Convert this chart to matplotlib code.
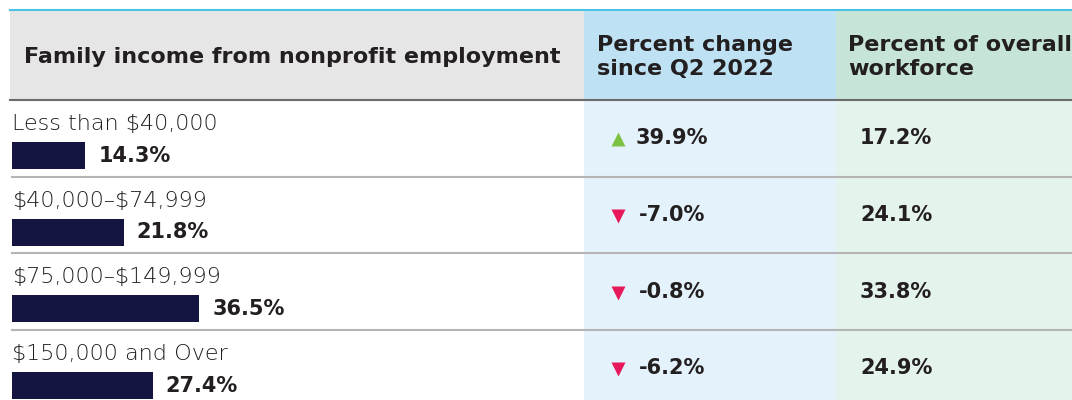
import matplotlib
matplotlib.use("Agg")
import matplotlib.pyplot as plt
from matplotlib.patches import Rectangle

plt.rcParams["text.parse_math"] = False

# data
categories = ["Less than $40,000", "$40,000\u2013$74,999", "$75,000\u2013$149,999", "$150,000 and Over"]
share_nonprofit = [14.3, 21.8, 36.5, 27.4]
pct_change = [39.9, -7.0, -0.8, -6.2]
share_workforce = [17.2, 24.1, 33.8, 24.9]
headers = ["Family income from nonprofit employment", "Percent change\nsince Q2 2022", "Percent of overall\nworkforce"]

W, H = 1072, 400
TEXT = "#231f20"
NAVY = "#13143f"
BOLD = dict(family="DejaVu Sans", fontweight="bold", color=TEXT)

fig = plt.figure(figsize=(W / 100, H / 100), dpi=100)
ax = fig.add_axes([0, 0, 1, 1])
ax.set_xlim(0, W)
ax.set_ylim(H, 0)
ax.axis("off")

# column geometry (pixels)
col_x = [10, 584, 836, W]
head_top, head_bot = 10, 100
row_h = 76.7

# backgrounds
ax.add_patch(Rectangle((col_x[0], head_top), col_x[1] - col_x[0], head_bot - head_top, color="#e6e6e6", lw=0))
ax.add_patch(Rectangle((col_x[1], head_top), col_x[2] - col_x[1], head_bot - head_top, color="#bee2f4", lw=0))
ax.add_patch(Rectangle((col_x[2], head_top), col_x[3] - col_x[2], head_bot - head_top, color="#c7e5d7", lw=0))
ax.add_patch(Rectangle((col_x[1], head_bot), col_x[2] - col_x[1], H - head_bot, color="#e4f3fb", lw=0))
ax.add_patch(Rectangle((col_x[2], head_bot), col_x[3] - col_x[2], H - head_bot, color="#e4f4ec", lw=0))

# rules
ax.plot([col_x[0], W], [head_top, head_top], color="#4cc3e6", lw=1.5)
ax.plot([col_x[0], W], [head_bot, head_bot], color="#6b6b6b", lw=1.5)
for i in range(1, len(categories)):
    y = head_bot + i * row_h
    ax.plot([12, W], [y, y], color="#b5b5b5", lw=1.5)

# header text
ax.text(24, 57, headers[0], fontsize=16, va="center", **BOLD)
ax.text(597, 57, headers[1], fontsize=16, va="center", linespacing=1.3, **BOLD)
ax.text(848, 57, headers[2], fontsize=16, va="center", linespacing=1.3, **BOLD)

# bar axes: x in percent
bx = fig.add_axes([12 / W, 0, 513 / W, 1])
bx.set_xlim(0, 100)
bx.set_ylim(H, 0)
bx.axis("off")

for i, (cat, v, ch, wf) in enumerate(zip(categories, share_nonprofit, pct_change, share_workforce)):
    top = head_bot + i * row_h
    ax.text(12, top + 24, cat, fontsize=16, fontweight="light", family="DejaVu Sans", color="#1e1e1e", va="center")
    bar_y = top + 55.5
    bx.barh(bar_y, v, height=27, left=0, color=NAVY)
    bx.annotate(f"{v:.1f}%", (v, bar_y), xytext=(13, 0), textcoords="offset pixels",
                fontsize=15, va="center", **BOLD)

    mid = top + row_h / 2
    up = ch >= 0
    ax.plot(618, mid + 1, marker="^" if up else "v", ms=10,
            color="#7cc142" if up else "#e8195b", mec="none")
    ax.text(636 if up else 639, mid, f"{ch:.1f}%", fontsize=15, va="center", **BOLD)
    ax.text(860, mid, f"{wf:.1f}%", fontsize=15, va="center", **BOLD)

fig.savefig("out.png", dpi=100)
